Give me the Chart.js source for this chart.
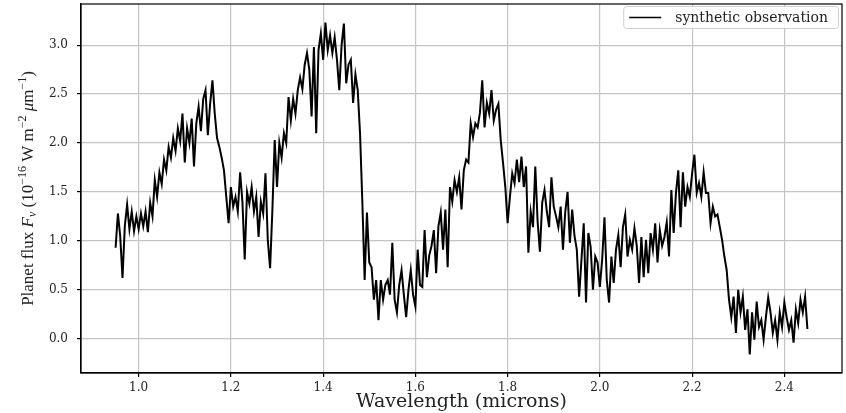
<!DOCTYPE html>
<html>
<head>
<meta charset="utf-8">
<script src="https://cdn.jsdelivr.net/npm/chart.js@4.4.0/dist/chart.umd.min.js"></script>
<style>
  html, body { margin: 0; padding: 0; background: #fff; }
  #wrap { width: 846px; height: 413px; }
</style>
</head>
<body>
<div id="wrap"><canvas id="spectrum" width="846" height="413"></canvas></div>
<script>
// flux, one value every 0.005 micron from 0.95 to 2.45
const flux = [
  0.93, 1.28, 1.05, 0.62, 1.15, 1.37, 1.12, 1.30, 1.10, 1.25,
  1.12, 1.28, 1.15, 1.30, 1.09, 1.39, 1.25, 1.62, 1.45, 1.70,
  1.58, 1.83, 1.72, 1.96, 1.85, 2.05, 1.92, 2.15, 2.02, 2.30,
  1.80, 2.15, 2.00, 2.25, 1.76, 2.20, 2.37, 2.12, 2.45, 2.54,
  2.08, 2.40, 2.64, 2.30, 2.05, 1.96, 1.85, 1.72, 1.45, 1.18,
  1.55, 1.35, 1.45, 1.30, 1.70, 1.40, 0.81, 1.50, 1.38, 1.55,
  1.30, 1.45, 1.04, 1.40, 1.28, 1.69, 1.01, 0.72, 1.32, 2.03,
  1.55, 2.00, 1.85, 2.10, 2.00, 2.47, 2.23, 2.45, 2.30, 2.54,
  2.67, 2.55, 2.80, 2.92, 2.75, 2.27, 2.98, 2.10, 2.95, 3.12,
  2.85, 3.23, 2.95, 3.10, 2.92, 3.08, 2.85, 2.54, 3.00, 3.22,
  2.61, 2.80, 2.85, 2.41, 2.70, 2.54, 2.10, 1.40, 0.60, 1.29,
  0.78, 0.73, 0.40, 0.60, 0.19, 0.60, 0.40, 0.55, 0.60, 0.45,
  0.98, 0.40, 0.27, 0.55, 0.70, 0.45, 0.22, 0.50, 0.70, 0.45,
  0.33, 0.91, 0.55, 0.53, 1.11, 0.63, 0.85, 0.95, 1.11, 0.67,
  1.15, 1.29, 0.91, 1.32, 0.73, 1.55, 1.40, 1.62, 1.50, 1.65,
  1.32, 1.72, 1.83, 1.80, 2.20, 2.06, 2.20, 2.16, 2.31, 2.64,
  2.16, 2.41, 2.30, 2.54, 2.23, 2.34, 2.40, 2.03, 1.80, 1.55,
  1.18, 1.45, 1.69, 1.59, 1.83, 1.60, 1.86, 1.55, 1.76, 0.88,
  1.30, 1.14, 1.76, 1.20, 0.89, 1.39, 1.52, 1.30, 1.14, 1.65,
  1.35, 1.25, 1.14, 1.35, 0.91, 1.30, 1.50, 0.98, 1.32, 1.05,
  0.91, 0.43, 0.80, 1.18, 0.37, 1.08, 0.94, 0.50, 0.84, 0.78,
  0.53, 0.81, 1.24, 0.60, 0.37, 0.84, 0.57, 0.91, 1.06, 0.73,
  1.14, 1.27, 0.84, 1.01, 0.91, 1.13, 0.95, 0.57, 1.04, 0.63,
  1.01, 0.67, 1.08, 0.91, 1.18, 0.78, 1.11, 0.95, 1.04, 1.19,
  0.84, 1.52, 1.08, 1.49, 1.72, 1.14, 1.70, 1.35, 1.55, 1.45,
  1.69, 1.88, 1.49, 1.59, 1.45, 1.70, 1.49, 1.49, 1.18, 1.35,
  1.25, 1.27, 1.14, 1.01, 0.84, 0.70, 0.40, 0.22, 0.43, 0.06,
  0.50, 0.27, 0.43, 0.09, 0.30, -0.16, 0.27, -0.01, 0.38, 0.12,
  0.19, -0.01, 0.22, 0.42, 0.27, 0.06, 0.19, -0.01, 0.27, 0.12,
  0.37, 0.22, 0.09, 0.19, -0.04, 0.30, 0.16, 0.40, 0.27, 0.43,
  0.10
];
const startWavelength = 0.95;
const wavelengthStep = 0.005;
const wavelengths = flux.map((_, i) => +(startWavelength + i * wavelengthStep).toFixed(3));

const xTicks = [1.0, 1.2, 1.4, 1.6, 1.8, 2.0, 2.2, 2.4];
const yTicks = [0.0, 0.5, 1.0, 1.5, 2.0, 2.5, 3.0];
const seriesLabel = "synthetic observation";
const xTitle = "Wavelength (microns)";

const serif = "'DejaVu Serif', 'Liberation Serif', serif";
const titleSerif = "'Liberation Serif', serif";

// y title with italic / super / subscripts, drawn by hand
const yTitleParts = [
  { text: "Planet flux " },
  { text: "F", italic: true },
  { text: "ν", italic: true, sub: true },
  { text: " (10" },
  { text: "−16", sup: true },
  { text: " W m" },
  { text: "−2", sup: true },
  { text: " " },
  { text: "μ", italic: true },
  { text: "m" },
  { text: "−1", sup: true },
  { text: ")" }
];

const yTitlePlugin = {
  id: "yTitle",
  afterDraw(chart) {
    const ctx = chart.ctx;
    const area = chart.chartArea;
    const size = 17;
    const small = 12;
    const fontFor = p => (p.italic ? "italic " : "") + ((p.sup || p.sub) ? small : size) + "px " + titleSerif;
    ctx.save();
    let total = 0;
    yTitleParts.forEach(p => { ctx.font = fontFor(p); total += ctx.measureText(p.text).width; });
    ctx.translate(27, (area.top + area.bottom) / 2);
    ctx.rotate(-Math.PI / 2);
    ctx.fillStyle = "#222";
    ctx.textBaseline = "alphabetic";
    let x = -total / 2;
    yTitleParts.forEach(p => {
      ctx.font = fontFor(p);
      let y = 6;
      if (p.sup) y -= 7;
      if (p.sub) y += 3;
      ctx.fillText(p.text, x, y);
      x += ctx.measureText(p.text).width;
    });
    ctx.restore();
  }
};

// box round the axes, like the matplotlib spines
const framePlugin = {
  id: "frame",
  afterDatasetsDraw(chart) {
    const { ctx, chartArea: a } = chart;
    ctx.save();
    ctx.strokeStyle = "#000";
    ctx.lineWidth = 1.2;
    ctx.strokeRect(a.left, a.top, a.right - a.left, a.bottom - a.top);
    ctx.restore();
  }
};

// legend inside the top-right corner
const legendBoxPlugin = {
  id: "legendBox",
  afterDraw(chart) {
    const { ctx, chartArea: a } = chart;
    const ds = chart.data.datasets[0];
    ctx.save();
    ctx.font = "14px " + serif;
    const tw = ctx.measureText(ds.label).width;
    const w = tw + 62, h = 22;
    const x = a.right - 4 - w, y = a.top + 2;
    ctx.fillStyle = "rgba(255,255,255,0.85)";
    ctx.strokeStyle = "#d0d0d0";
    ctx.lineWidth = 1;
    ctx.beginPath();
    ctx.roundRect(x + 0.5, y + 0.5, w, h, 3);
    ctx.fill();
    ctx.stroke();
    ctx.strokeStyle = ds.borderColor;
    ctx.lineWidth = 1.5;
    ctx.beginPath();
    ctx.moveTo(x + 6, y + h / 2 + 0.5);
    ctx.lineTo(x + 38, y + h / 2 + 0.5);
    ctx.stroke();
    ctx.fillStyle = "#222";
    ctx.textBaseline = "middle";
    ctx.fillText(ds.label, x + 52, y + h / 2 + 1);
    ctx.restore();
  }
};

const ctx = document.getElementById("spectrum").getContext("2d");

const myChart = new Chart(ctx, {
  type: "line",
  data: {
    labels: wavelengths,
    datasets: [{
      label: seriesLabel,
      data: wavelengths.map((w, i) => ({ x: w, y: flux[i] })),
      borderColor: "#000",
      borderWidth: 2,
      pointRadius: 0,
      tension: 0,
      fill: false
    }]
  },
  options: {
    responsive: false,
    animation: false,
    devicePixelRatio: 1,
    layout: { padding: { top: 4, right: 4, left: 0, bottom: 0 } },
    plugins: {
      legend: { display: false },
      tooltip: { enabled: false }
    },
    scales: {
      x: {
        type: "linear",
        min: 0.875,
        max: 2.525,
        afterBuildTicks(scale) { scale.ticks = xTicks.map(v => ({ value: v })); },
        afterFit(scale) { scale.height = 40; scale.paddingLeft = 0; scale.paddingRight = 0; },
        ticks: {
          callback: v => v.toFixed(1),
          color: "#222",
          font: { family: serif, size: 12 },
          padding: 4,
          maxRotation: 0
        },
        grid: { color: "#c4c4c4", lineWidth: 1.2, tickColor: "#000", tickLength: 4 },
        border: { display: true, color: "#000", width: 1.2 },
        title: {
          display: true,
          text: xTitle,
          color: "#222",
          font: { family: serif, size: 19 },
          padding: { top: 0, bottom: 0 }
        }
      },
      y: {
        type: "linear",
        min: -0.35,
        max: 3.42,
        afterBuildTicks(scale) { scale.ticks = yTicks.map(v => ({ value: v })); },
        afterFit(scale) { scale.width = 81; scale.paddingTop = 0; scale.paddingBottom = 0; },
        ticks: {
          callback: v => v.toFixed(1),
          color: "#222",
          font: { family: serif, size: 12 },
          padding: 9
        },
        grid: { color: "#c4c4c4", lineWidth: 1.2, tickColor: "#000", tickLength: 4 },
        border: { display: true, color: "#000", width: 1.2 }
      }
    }
  },
  plugins: [yTitlePlugin, framePlugin, legendBoxPlugin]
});
</script>
</body>
</html>
